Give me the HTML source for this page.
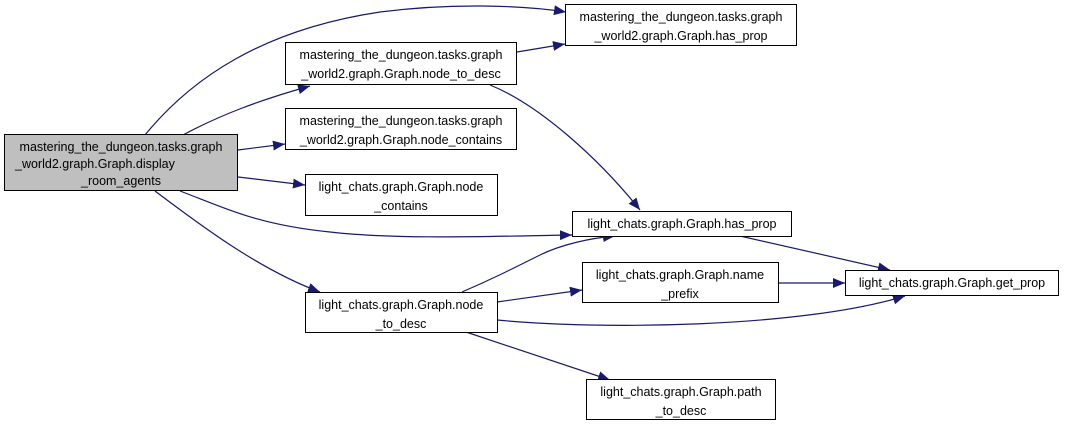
<!DOCTYPE html>
<html><head><meta charset="utf-8"><style>
body{margin:0;background:#fff;width:1065px;height:426px;overflow:hidden}
svg text{font-family:"Liberation Sans",sans-serif;font-size:12.5px;fill:#000}
</style></head><body>
<svg width="1065" height="426" viewBox="0 0 1065 426" xmlns="http://www.w3.org/2000/svg">
<defs><marker id="a" markerWidth="13" markerHeight="10" refX="12" refY="5" orient="auto" markerUnits="userSpaceOnUse"><path d="M0,0 L12,5 L0,10 z" fill="#191970"/></marker></defs>
<g fill="none" stroke="#191970" stroke-width="1.2" marker-end="url(#a)">
<path d="M145,135 C190,80 260,30 380,12 C450,3 520,5 566,12"/>
<path d="M183,135 C220,115 260,100 310,86"/>
<path d="M238,150 L285,144"/>
<path d="M238,177 L305,185"/>
<path d="M180,191 C230,210 260,225 330,232 C400,240 500,236 572,235"/>
<path d="M155,191 C200,225 260,270 320,292"/>
<path d="M517,52 L565,44"/>
<path d="M490,85 C540,105 600,160 640,210"/>
<path d="M462,292 C490,280 510,270 540,255 C560,245 590,238 615,236"/>
<path d="M497,302 L582,290"/>
<path d="M497,320 C600,330 800,328 905,296"/>
<path d="M466,332 L610,380"/>
<path d="M740,236 L890,270"/>
<path d="M778,283 L845,283"/>
</g>
<g stroke="#000" stroke-width="1">
<rect x="4.5" y="134.5" width="233" height="56" fill="#bfbfbf"/>
<rect x="285.5" y="42.5" width="231" height="42" fill="#fff"/>
<rect x="565.5" y="4.5" width="231" height="41" fill="#fff"/>
<rect x="285.5" y="108.5" width="231" height="41" fill="#fff"/>
<rect x="305.5" y="174.5" width="192" height="41" fill="#fff"/>
<rect x="572.5" y="211.5" width="219" height="25" fill="#fff"/>
<rect x="582.5" y="262.5" width="196" height="40" fill="#fff"/>
<rect x="845.5" y="270.5" width="213" height="25" fill="#fff"/>
<rect x="305.5" y="292.5" width="192" height="40" fill="#fff"/>
<rect x="586.5" y="379.5" width="189" height="40" fill="#fff"/>
</g>
<g text-anchor="middle">
<text x="121" y="151">mastering_the_dungeon.tasks.graph</text>
<text x="401" y="59">mastering_the_dungeon.tasks.graph</text>
<text x="401" y="78">_world2.graph.Graph.node_to_desc</text>
<text x="681" y="21">mastering_the_dungeon.tasks.graph</text>
<text x="681" y="40">_world2.graph.Graph.has_prop</text>
<text x="401" y="125">mastering_the_dungeon.tasks.graph</text>
<text x="401" y="144">_world2.graph.Graph.node_contains</text>
<text x="401" y="191">light_chats.graph.Graph.node</text>
<text x="401" y="210">_contains</text>
<text x="682" y="228">light_chats.graph.Graph.has_prop</text>
<text x="680" y="279">light_chats.graph.Graph.name</text>
<text x="680" y="298">_prefix</text>
<text x="952" y="287">light_chats.graph.Graph.get_prop</text>
<text x="401" y="309">light_chats.graph.Graph.node</text>
<text x="401" y="328">_to_desc</text>
<text x="681" y="396">light_chats.graph.Graph.path</text>
<text x="681" y="415">_to_desc</text>
<text x="121" y="185">_room_agents</text>
</g>
<text x="15" y="168">_world2.graph.Graph.display</text>
</svg>
</body></html>
